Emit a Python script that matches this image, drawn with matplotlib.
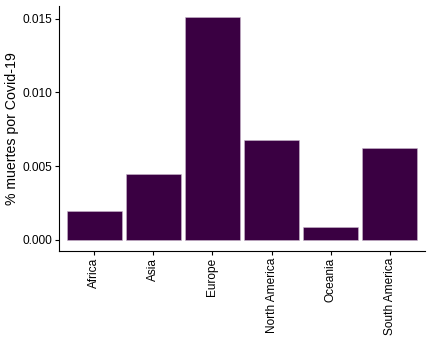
import matplotlib
matplotlib.use("Agg")
import matplotlib.pyplot as plt

plt.rcParams["font.family"] = ["Liberation Sans", "DejaVu Sans"]

continents = ["Africa", "Asia", "Europe", "North America", "Oceania", "South America"]
death_pct = [0.00197, 0.00448, 0.0151, 0.00679, 0.00088, 0.00624]

fig = plt.figure(figsize=(4.32, 3.6), dpi=100)
ax = fig.add_axes([59 / 432, 109 / 360, 366 / 432, 245 / 360])

xpos = list(range(1, len(continents) + 1))
ax.bar(xpos, death_pct, width=0.92, color="#3a0042", edgecolor="#c9b8cc", linewidth=0.4)

ymax = max(death_pct)
ax.set_xlim(0.4, len(continents) + 0.6)
ax.set_ylim(-0.05 * ymax, 1.05 * ymax)
ax.set_xticks(xpos)
ax.set_xticklabels(continents, rotation=90)
ax.set_yticks([0.0, 0.005, 0.010, 0.015])
ax.set_yticklabels(["0.000", "0.005", "0.010", "0.015"])
ax.set_ylabel("% muertes por Covid-19", fontsize=10.2)
ax.yaxis.set_label_coords(-0.108, 0.5)

for side in ["top", "right"]:
    ax.spines[side].set_visible(False)
for side in ["left", "bottom"]:
    ax.spines[side].set_linewidth(0.8)
ax.tick_params(axis="both", labelsize=8.6, length=3, width=0.8, pad=2, colors="black")

fig.savefig("out.png", dpi=100)
